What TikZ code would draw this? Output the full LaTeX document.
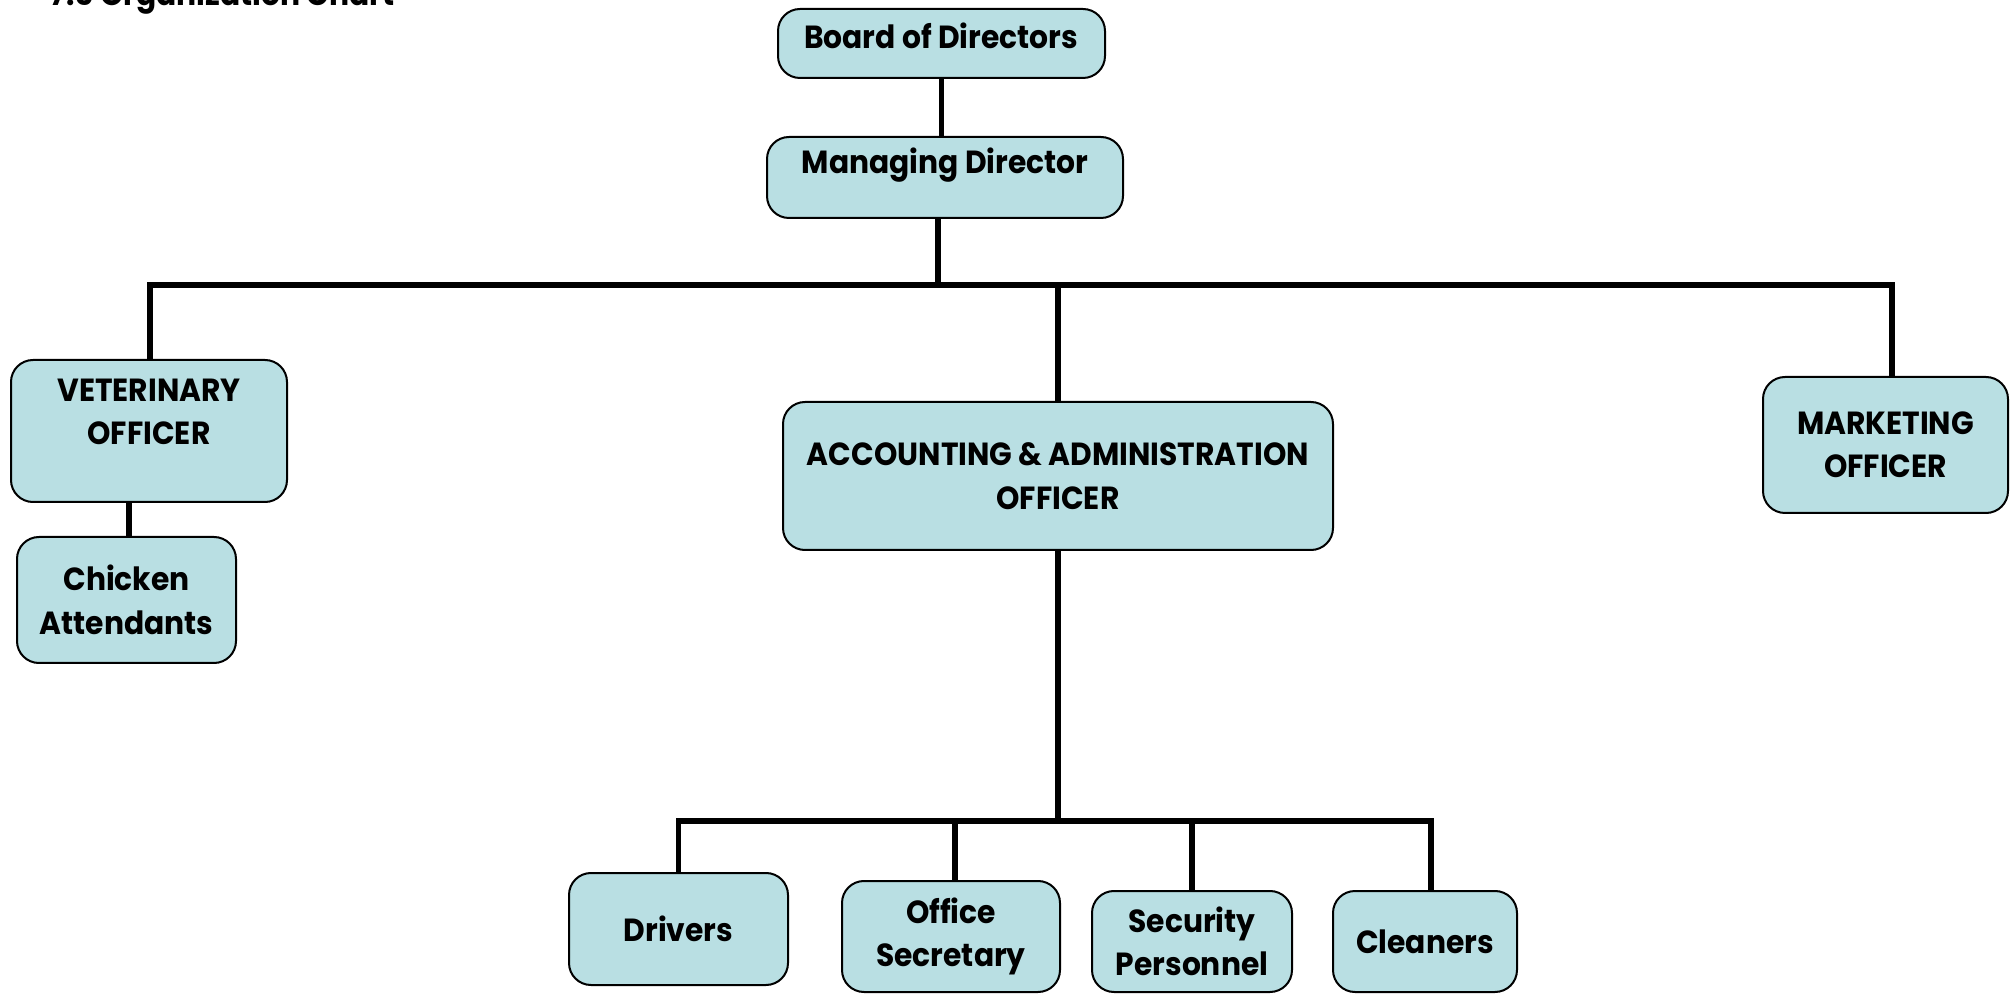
\documentclass[tikz,border=0pt]{standalone}
\usepackage{fontspec}
\setmainfont{Poppins}[FakeStretch=0.93]
\begin{document}
\begin{tikzpicture}[x=0.5pt,y=-0.5pt,
  box/.style={draw=black,line width=1pt,fill=boxfill,rounded corners=11pt,inner sep=0pt},
  txt/.style={font=\fontsize{16}{21.75}\selectfont\bfseries,align=center,inner sep=0pt},
  conn/.style={line width=2.6pt,draw=black}]
\definecolor{boxfill}{RGB}{185,223,227}
\clip (0,0) rectangle (2015,994);
\useasboundingbox (0,0) rectangle (2015,994);
% title (cut off at the top, as in the reference)
\node[anchor=base west,inner sep=0pt,font=\fontsize{16}{20}\selectfont\bfseries] (title) at (50,6) {7.5 Organization Chart};
% boxes
\node[box,minimum width=163.5pt,minimum height=34.5pt] (board) at (941.5,43.5) {};
\node[txt] (boardt) at (941,36) {Board of Directors};
\node[box,minimum width=178pt,minimum height=40.5pt] (md) at (945,177.5) {};
\node[txt] (mdt) at (945,165) {Managing Director};
\node[box,minimum width=138pt,minimum height=71pt] (vet) at (149,431) {};
\node[txt] (vett) at (149,412) {VETERINARY\\OFFICER};
\node[box,txt,minimum width=109.5pt,minimum height=63pt] (chick) at (126.5,600) {Chicken\\Attendants};
\node[box,txt,minimum width=275pt,minimum height=74pt] (acct) at (1058,476) {ACCOUNTING \& ADMINISTRATION\\OFFICER};
\node[box,txt,minimum width=122.5pt,minimum height=68pt] (mkt) at (1885.5,445) {MARKETING\\OFFICER};
\node[box,txt,minimum width=109.5pt,minimum height=56pt] (drv) at (678.5,929) {Drivers};
\node[box,txt,minimum width=109pt,minimum height=55.5pt] (sec) at (951,936.5) {Office\\Secretary};
\node[box,txt,minimum width=100pt,minimum height=50.5pt] (secu) at (1192,941.5) {Security\\Personnel};
\node[box,txt,minimum width=92pt,minimum height=50.5pt] (cln) at (1425,941.5) {Cleaners};
% bus coordinates
\coordinate (busL) at (150,285);
\coordinate (busR) at (1892,285);
\coordinate (bus2R) at (1431,821);
% connectors
\draw[conn] (board.south) -- (board.south |- md.north);
\draw[conn] ([xshift=-3.5pt]md.south) -- ([xshift=-3.5pt]md.south |- busL);
\draw[conn] (busL |- vet.north) -- (busL) -- (busR) -- (busR |- mkt.north);
\draw[conn] (acct.north |- busL) -- (acct.north);
\draw[conn] (chick.north -| 129,0) -- (vet.south -| 129,0);
\draw[conn] (drv.north) -- (drv.north |- bus2R) -- (bus2R) -- (bus2R |- cln.north);
\draw[conn] (acct.south) -- (acct.south |- bus2R);
\draw[conn] ([xshift=2pt]sec.north) -- ([xshift=2pt]sec.north |- bus2R);
\draw[conn] (secu.north) -- (secu.north |- bus2R);
\end{tikzpicture}
\end{document}
